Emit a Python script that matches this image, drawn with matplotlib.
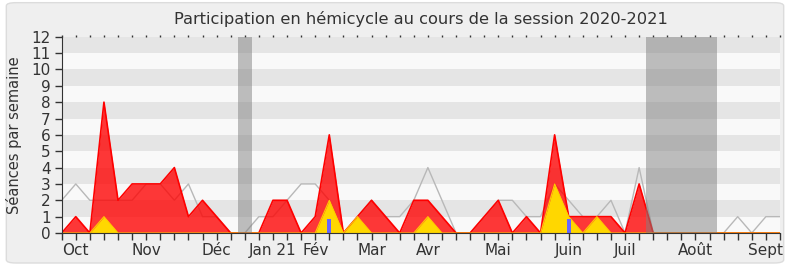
import matplotlib.pyplot as plt
from matplotlib.patches import FancyBboxPatch

# semaines de la session (index)
weeks = list(range(52))

# séances en hémicycle (rouge)
presence = [0, 1, 0, 8, 2, 3, 3, 3, 4, 1, 2, 1, 0, 0, 0, 2, 2, 0, 1, 6,
            0, 1, 2, 1, 0, 2, 2, 1, 0, 0, 1, 2, 0, 1, 0, 6, 1, 1, 1, 1,
            0, 3, 0, 0, 0, 0, 0, 0, 0, 0, 0, 0]
# interventions (jaune)
interventions = [0, 0, 0, 1, 0, 0, 0, 0, 0, 0, 0, 0, 0, 0, 0, 0, 0, 0, 0, 2,
                 0, 1, 0, 0, 0, 0, 1, 0, 0, 0, 0, 0, 0, 0, 0, 3, 1, 0, 1, 0,
                 0, 0, 0, 0, 0, 0, 0, 0, 0, 0, 0, 0]
# médiane des députés (gris)
mediane = [2, 3, 2, 2, 2, 2, 3, 3, 2, 3, 1, 1, 0, 0, 1, 1, 2, 3, 3, 2,
           0, 1, 2, 1, 1, 2, 4, 2, 0, 0, 1, 2, 2, 1, 1, 3, 2, 1, 1, 2,
           0, 4, 0, 0, 0, 0, 0, 0, 1, 0, 1, 1]
# questions (bleu)
question_weeks = [19, 36]
question_vals = [0.85, 0.85]

# vacances parlementaires
vacances = [(12.5, 13.5), (41.5, 46.5)]

month_pos = [1, 6, 11, 15, 18, 22, 26, 31, 36, 40, 45, 50]
month_labels = ['Oct', 'Nov', 'Déc', 'Jan 21', 'Fév', 'Mar', 'Avr', 'Mai',
                'Juin', 'Juil', 'Août', 'Sept']

fig = plt.figure(figsize=(7.9, 2.67), dpi=100, facecolor='white')
fig.patches.append(FancyBboxPatch((0.008, 0.015), 0.984, 0.975,
                                  boxstyle='round,pad=0,rounding_size=0.012',
                                  transform=fig.transFigure, facecolor='#efefef',
                                  edgecolor='#dcdcdc', lw=1, zorder=-10))
ax = fig.add_axes([0.0781, 0.1273, 0.9092, 0.7352])
ax.set_facecolor('#f9f9f9')

for k in range(1, 12, 2):
    ax.axhspan(k, k + 1, color='#e5e5e5', lw=0, zorder=0)
for a, b in vacances:
    ax.axvspan(a, b, color='#808080', alpha=0.5, lw=0, zorder=5)

ax.plot(weeks, mediane, color='#b8b8b8', lw=1, zorder=1)
ax.fill_between(weeks, presence, color='#ff0000', alpha=0.78, lw=0, zorder=2)
ax.plot(weeks, presence, color='#ff0000', lw=1.2, zorder=3)
ax.fill_between(weeks, interventions, color='#ffd700', lw=0, zorder=3)
ax.plot(weeks, interventions, color='#ffcc00', lw=0.8, zorder=3)
ax.bar(question_weeks, question_vals, width=0.28, color='#6666ff', zorder=4)

ax.set_xlim(0, 51)
ax.set_ylim(0, 12)
ax.set_yticks(range(13))
ax.set_xticks(weeks)
labels = [''] * len(weeks)
for p, l in zip(month_pos, month_labels):
    labels[p] = l
ax.set_xticklabels(labels)

ax.tick_params(axis='both', direction='out', length=5, width=1, color='#333333',
               labelsize=11, labelcolor='#333333', pad=2)
ax.tick_params(axis='y', pad=3)
ax.tick_params(axis='x', top=True)
for t in ax.xaxis.get_major_ticks():
    t.tick2line.set_markersize(1.5)

for s in ['top', 'right']:
    ax.spines[s].set_visible(False)
for s in ['left', 'bottom']:
    ax.spines[s].set_color('#333333')
    ax.spines[s].set_zorder(6)

ax.set_ylabel('Séances par semaine', fontsize=10.5, color='#333333', labelpad=7)
ax.set_title('Participation en hémicycle au cours de la session 2020-2021',
             fontsize=11.7, color='#333333', pad=9)

fig.savefig('out.png', dpi=100, facecolor=fig.get_facecolor())
